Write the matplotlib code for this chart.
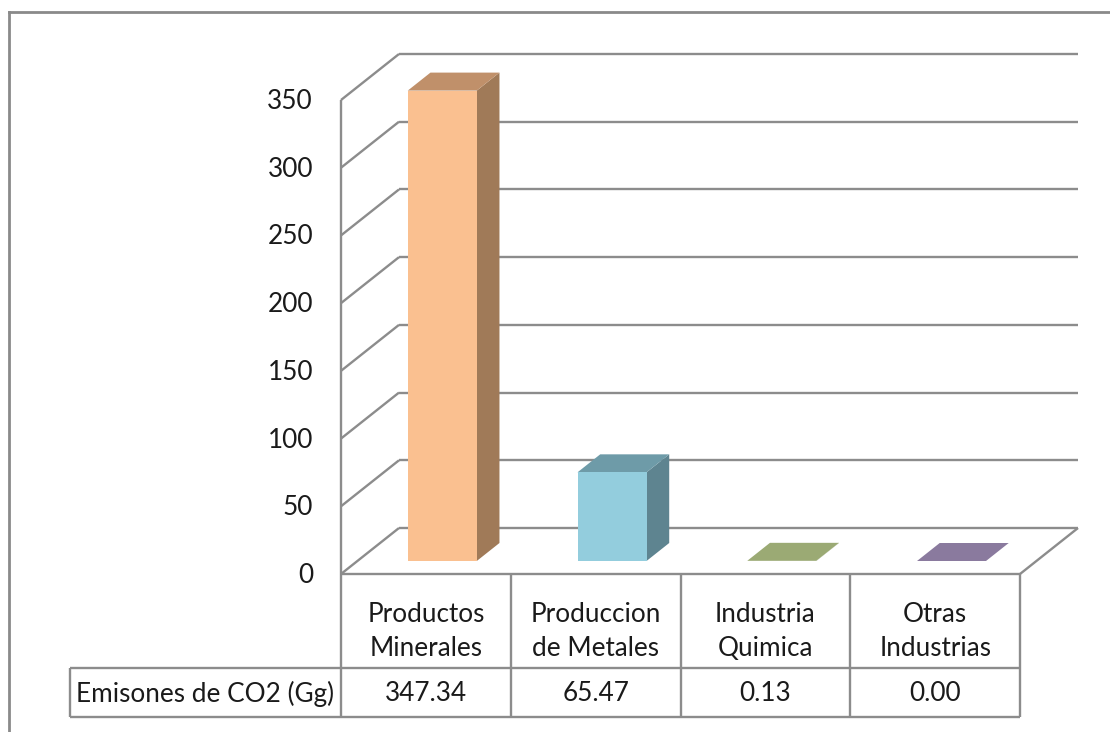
import matplotlib
matplotlib.use("Agg")
import matplotlib.pyplot as plt
from matplotlib.patches import Polygon

# ---- data ----
categories = ["Productos\nMinerales", "Produccion\nde Metales", "Industria\nQuimica", "Otras\nIndustrias"]
emisiones = [347.34, 65.47, 0.13, 0.00]
row_label = "Emisones de CO2 (Gg)"
y_ticks = [0, 50, 100, 150, 200, 250, 300, 350]

# ---- styling ----
front_colors = ["#FAC090", "#93CDDD", "#9BAA74", "#8A7A9E"]
top_colors = ["#C0906A", "#6E9BA8", "#8E9E68", "#7E6E92"]
side_colors = ["#A07A58", "#5E8490", "#7F8E5C", "#6F6284"]
grid_color = "#8C8C8C"
font = ["Lato", "DejaVu Sans"]
fs = 18.8

W, H = 1110, 732
fig = plt.figure(figsize=(W / 100, H / 100), dpi=100)

# Front plane of the 3D plot area (pixels)
x0, x1 = 341, 1020
y_base, y_top = 574, 100
ymax = 350
ax = fig.add_axes([x0 / W, (H - y_base) / H, (x1 - x0) / W, (y_base - y_top) / H])
ax.set_xlim(0, len(categories))
ax.set_ylim(0, ymax)
ax.axis("off")

# Oblique depth expressed in data units
px_per_cat = (x1 - x0) / len(categories)
px_per_val = (y_base - y_top) / ymax
DX = 58 / px_per_cat
DY = 46 / px_per_val

line_kw = dict(color=grid_color, lw=1.7, clip_on=False, solid_capstyle="butt")

# Back wall gridlines and side wall diagonals
for t in y_ticks:
    ax.plot([DX, len(categories) + DX], [t + DY, t + DY], **line_kw)
    ax.plot([0, DX], [t, t + DY], **line_kw)
# Floor front and right edges
ax.plot([0, len(categories)], [0, 0], **line_kw)
ax.plot([len(categories), len(categories) + DX], [0, DY], **line_kw)
# Vertical axis line
ax.plot([0, 0], [0, ymax], **line_kw)

# Y tick labels
for t in y_ticks:
    ax.text(-28 / px_per_cat, t - 1.5 / px_per_val, str(t), ha="right", va="center",
            fontsize=fs, family=font, color="#1a1a1a")

# 3D columns
bw = 69 / px_per_cat
f1, f2 = 13 / 46, 31 / 46
for i, v in enumerate(emisiones):
    cx = i + 0.5
    xl, xr = cx - bw / 2, cx + bw / 2
    ax1, ay1 = f1 * DX, f1 * DY
    ax2, ay2 = f2 * DX, f2 * DY
    # side face
    ax.add_patch(Polygon([(xr + ax1, ay1), (xr + ax2, ay2), (xr + ax2, v + ay2), (xr + ax1, v + ay1)],
                         closed=True, fc=side_colors[i], ec="none", clip_on=False, zorder=3))
    # top face
    ax.add_patch(Polygon([(xl + ax1, v + ay1), (xr + ax1, v + ay1), (xr + ax2, v + ay2), (xl + ax2, v + ay2)],
                         closed=True, fc=top_colors[i] if v > 1 else front_colors[i], ec="none",
                         clip_on=False, zorder=3))
    # front face
    ax.add_patch(Polygon([(xl + ax1, ay1), (xr + ax1, ay1), (xr + ax1, v + ay1), (xl + ax1, v + ay1)],
                         closed=True, fc=front_colors[i], ec="none", clip_on=False, zorder=4))

# ---- overlay in pixel coordinates: chart frame and data table ----
ov = fig.add_axes([0, 0, 1, 1], zorder=5)
ov.set_xlim(0, W)
ov.set_ylim(H, 0)
ov.axis("off")
ov.patch.set_alpha(0)

pkw = dict(color=grid_color, lw=1.7, solid_capstyle="butt")
# chart area border
ov.plot([9, 9], [12, H], color="#8A8A8A", lw=2)
ov.plot([9, W], [12, 12], color="#8A8A8A", lw=2)

# table
tl = 70
r_mid, r_bot = 668, 717
col_x = [x0 + k * px_per_cat for k in range(len(categories) + 1)]
ov.plot([tl, x1], [r_mid, r_mid], **pkw)
ov.plot([tl, x1], [r_bot, r_bot], **pkw)
ov.plot([tl, tl], [r_mid, r_bot], **pkw)
for cxp in col_x:
    ov.plot([cxp, cxp], [y_base, r_bot], **pkw)

for k, (cat, v) in enumerate(zip(categories, emisiones)):
    c = (col_x[k] + col_x[k + 1]) / 2
    ov.text(c, 631, cat, ha="center", va="center", fontsize=fs,
            family=font, color="#1a1a1a", linespacing=1.45)
    ov.text(c, (r_mid + r_bot) / 2 + 1, f"{v:.2f}", ha="center", va="center", fontsize=fs,
            family=font, color="#1a1a1a")
ov.text((tl + x0) / 2, (r_mid + r_bot) / 2 + 1, row_label, ha="center", va="center",
        fontsize=fs, family=font, color="#1a1a1a")

fig.savefig("out.png", dpi=100, facecolor="white")
